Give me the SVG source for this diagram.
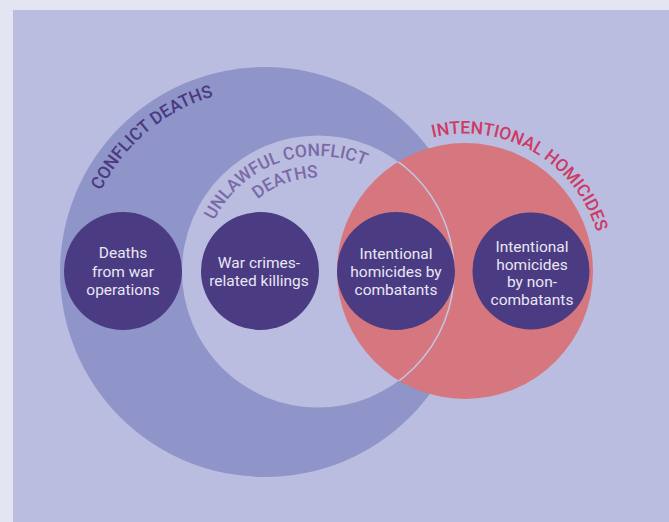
<svg xmlns="http://www.w3.org/2000/svg" width="669" height="522" viewBox="0 0 669 522">
<style>
.node{fill:#4a3b82}
.nt{font-family:Roboto,'Liberation Sans',sans-serif;font-size:15.5px;fill:#e9e7f4;text-anchor:middle}
.arc{font-family:Roboto,'Liberation Sans',sans-serif;font-size:17.5px;font-weight:500;text-anchor:middle}
</style>
<defs>
<path id="pConflict" d="M115.1,377.0 A183,183 0 0,1 394.4,142.6"/>
<path id="pUnlawful" d="M206.0,301.5 A116,116 0 0,1 423.1,222.5"/>
<path id="pDeaths" d="M227.2,295.8 A94,94 0 0,1 403.2,231.8"/>
<path id="pHom" d="M352.4,192.1 A137.5,137.5 0 0,1 589.6,329.1"/>
<clipPath id="pinkClip"><circle cx="465" cy="271" r="128"/></clipPath>
</defs>
<rect x="0" y="0" width="669" height="522" fill="#e3e5f2"/>
<rect x="13" y="10" width="656" height="512" fill="#babde0"/>
<g id="conflict-deaths">
<circle cx="265" cy="272" r="205" fill="#8f95c8"/>
<text class="arc" fill="#4b3a83"><textPath href="#pConflict" startOffset="50%">CONFLICT DEATHS</textPath></text>
</g>
<g id="unlawful-conflict-deaths">
<circle cx="318" cy="271.5" r="136" fill="#babde0"/>
<text class="arc" fill="#7b6aa8"><textPath href="#pUnlawful" startOffset="50%">UNLAWFUL CONFLICT</textPath></text>
<text class="arc" fill="#7b6aa8"><textPath href="#pDeaths" startOffset="50%">DEATHS</textPath></text>
</g>
<g id="intentional-homicides">
<circle cx="465" cy="271" r="128" fill="#d6777f"/>
<text class="arc" fill="#cd3a63"><textPath href="#pHom" startOffset="50%">INTENTIONAL HOMICIDES</textPath></text>
</g>
<circle cx="318" cy="271.5" r="136" fill="none" stroke="#c3c6e6" stroke-width="1.5" clip-path="url(#pinkClip)"/>
<g id="connectors"/>
<g id="war-operations">
<circle class="node" cx="123" cy="271" r="59"/>
<text class="nt"><tspan x="123" y="258">Deaths</tspan><tspan x="123" y="276.5">from war</tspan><tspan x="123" y="295">operations</tspan></text>
</g>
<g id="war-crimes">
<circle class="node" cx="260" cy="271" r="59"/>
<text class="nt"><tspan x="259" y="268">War crimes-</tspan><tspan x="259" y="286">related killings</tspan></text>
</g>
<g id="homicides-combatants">
<circle class="node" cx="396" cy="271" r="59"/>
<text class="nt"><tspan x="396" y="259">Intentional</tspan><tspan x="396" y="277">homicides by</tspan><tspan x="396" y="295">combatants</tspan></text>
</g>
<g id="homicides-noncombatants">
<circle class="node" cx="531" cy="271" r="58.5"/>
<text class="nt"><tspan x="532" y="252">Intentional</tspan><tspan x="532" y="269.5">homicides</tspan><tspan x="532" y="287">by non-</tspan><tspan x="532" y="304.5">combatants</tspan></text>
</g>
</svg>
